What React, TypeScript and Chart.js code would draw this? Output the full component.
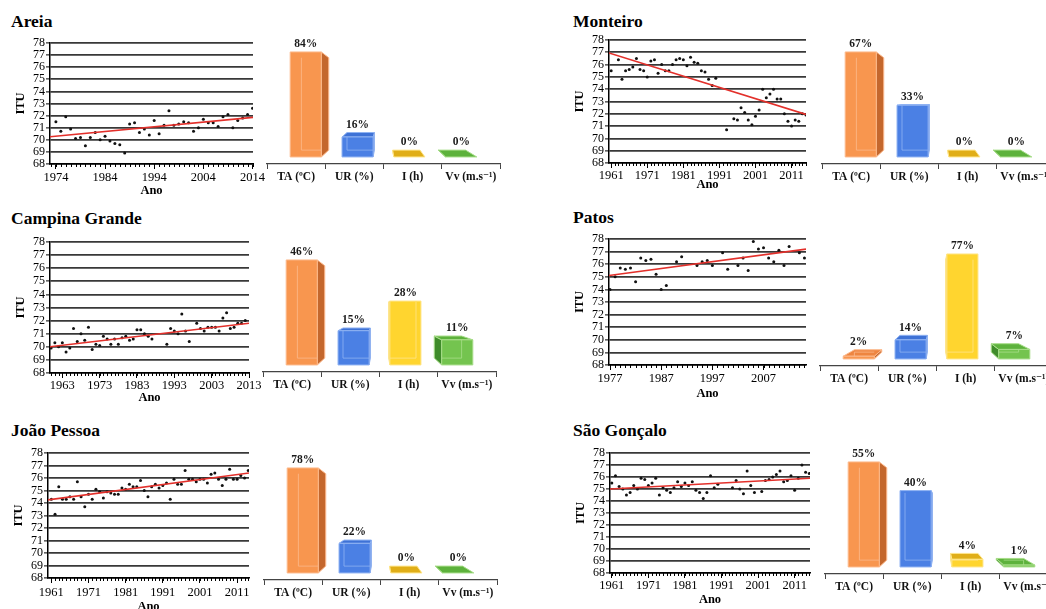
import React, { useEffect, useRef } from 'react';
import { Chart, registerables } from 'chart.js';
Chart.register(...registerables);

const SERIF = '"Liberation Serif", "Times New Roman", "DejaVu Serif", serif';

// ---------------- DATA ----------------
const BAR_CATEGORIES = ['TA (ºC)', 'UR (%)', 'I (h)', 'Vv (m.s⁻¹)'];
const ITU_TICKS = [68, 69, 70, 71, 72, 73, 74, 75, 76, 77, 78];

const AREIA_YEARS = [1974, 1975, 1976, 1977, 1978, 1979, 1980, 1981, 1982, 1983, 1984, 1985, 1986, 1987, 1988, 1989, 1990, 1991, 1992, 1993, 1994, 1995, 1996, 1997, 1998, 1999, 2000, 2001, 2002, 2003, 2004, 2005, 2006, 2007, 2008, 2009, 2010, 2011, 2012, 2013, 2014];
const AREIA_ITU = [71.5, 70.7, 71.9, 70.9, 70.1, 70.2, 69.5, 70.2, 70.6, 70.0, 70.3, 69.9, 69.7, 69.6, 68.9, 71.3, 71.4, 70.6, 70.9, 70.4, 71.6, 70.5, 71.2, 72.4, 71.2, 71.3, 71.5, 71.4, 70.7, 71.0, 71.7, 71.4, 71.4, 71.1, 71.9, 72.1, 71.0, 71.6, 71.8, 72.1, 72.6];
const AREIA_TREND_YEARS = [1972.8, 2014.1];
const AREIA_TREND_ITU = [70.25, 71.85];
const AREIA_LABEL_YEARS = [1974, 1984, 1994, 2004, 2014];
const AREIA_SHARE = [84, 16, 0, 0];

const MONTEIRO_YEARS = [1961, 1963, 1964, 1965, 1966, 1967, 1968, 1969, 1970, 1971, 1972, 1973, 1974, 1975, 1976, 1977, 1978, 1979, 1980, 1981, 1982, 1983, 1984, 1985, 1986, 1987, 1988, 1989, 1990, 1993, 1995, 1996, 1997, 1998, 1999, 2000, 2001, 2002, 2003, 2004, 2005, 2006, 2007, 2008, 2009, 2010, 2011, 2012, 2013, 2014, 2015];
const MONTEIRO_ITU = [75.5, 76.4, 74.8, 75.5, 75.6, 75.8, 76.5, 75.6, 75.5, 75.0, 76.3, 76.4, 75.3, 76.0, 75.5, 75.5, 76.0, 76.4, 76.5, 76.4, 75.9, 76.6, 76.2, 76.1, 75.5, 75.4, 74.8, 74.3, 74.9, 70.7, 71.6, 71.5, 72.5, 72.1, 71.5, 71.1, 71.8, 72.3, 74.0, 73.3, 73.6, 74.0, 73.2, 73.2, 72.0, 71.4, 71.0, 71.5, 71.4, 72.0, 71.9];
const MONTEIRO_TREND_YEARS = [1960.4, 2015];
const MONTEIRO_TREND_ITU = [76.95, 71.95];
const MONTEIRO_LABEL_YEARS = [1961, 1971, 1981, 1991, 2001, 2011];
const MONTEIRO_SHARE = [67, 33, 0, 0];

const CAMPINA_YEARS = [1960, 1961, 1962, 1963, 1964, 1965, 1966, 1967, 1968, 1969, 1970, 1971, 1972, 1973, 1974, 1975, 1976, 1977, 1978, 1979, 1980, 1981, 1982, 1983, 1984, 1985, 1986, 1987, 1991, 1992, 1993, 1994, 1995, 1996, 1997, 1999, 2000, 2001, 2002, 2003, 2004, 2005, 2006, 2007, 2008, 2009, 2010, 2011, 2012];
const CAMPINA_ITU = [69.9, 70.3, 70.0, 70.3, 69.6, 69.9, 71.4, 70.4, 71.0, 70.5, 71.5, 69.8, 70.2, 70.1, 70.8, 70.6, 70.2, 70.6, 70.2, 70.7, 70.8, 70.5, 70.6, 71.3, 71.3, 71.0, 70.8, 70.6, 70.2, 71.4, 71.2, 71.0, 72.5, 71.2, 70.4, 71.8, 71.4, 71.2, 71.5, 71.5, 71.5, 71.2, 72.2, 72.6, 71.4, 71.5, 71.8, 71.8, 72.0];
const CAMPINA_TREND_YEARS = [1959.7, 2013];
const CAMPINA_TREND_ITU = [70.0, 71.8];
const CAMPINA_LABEL_YEARS = [1963, 1973, 1983, 1993, 2003, 2013];
const CAMPINA_SHARE = [46, 15, 28, 11];

const PATOS_YEARS = [1977, 1978, 1979, 1980, 1981, 1982, 1983, 1984, 1985, 1986, 1987, 1988, 1990, 1991, 1994, 1995, 1996, 1997, 1999, 2000, 2002, 2003, 2004, 2005, 2006, 2007, 2008, 2009, 2010, 2011, 2012, 2014, 2015];
const PATOS_ITU = [74.0, 75.0, 75.7, 75.6, 75.7, 74.6, 76.5, 76.3, 76.4, 75.2, 74.0, 74.3, 76.2, 76.6, 75.9, 76.2, 76.3, 75.9, 76.9, 75.6, 75.9, 76.5, 75.5, 77.8, 77.2, 77.3, 76.5, 76.2, 77.1, 75.9, 77.4, 76.9, 76.5];
const PATOS_TREND_YEARS = [1976.8, 2015.3];
const PATOS_TREND_ITU = [75.1, 77.2];
const PATOS_LABEL_YEARS = [1977, 1987, 1997, 2007];
const PATOS_SHARE = [2, 14, 77, 7];

const JOAO_PESSOA_YEARS = [1961, 1962, 1963, 1964, 1965, 1966, 1967, 1968, 1969, 1970, 1971, 1972, 1973, 1974, 1975, 1976, 1977, 1978, 1979, 1980, 1981, 1982, 1983, 1984, 1985, 1986, 1987, 1988, 1989, 1990, 1991, 1992, 1993, 1994, 1995, 1996, 1997, 1998, 1999, 2000, 2001, 2002, 2003, 2004, 2005, 2006, 2007, 2008, 2009, 2010, 2011, 2012, 2013, 2014];
const JOAO_PESSOA_ITU = [74.3, 73.1, 75.3, 74.3, 74.3, 74.5, 74.3, 75.7, 74.5, 73.7, 74.7, 74.3, 75.1, 74.9, 74.4, 74.9, 74.8, 74.7, 74.7, 75.2, 75.1, 75.5, 75.3, 75.3, 75.8, 75.0, 74.5, 75.3, 75.5, 75.2, 75.4, 75.6, 74.3, 75.9, 75.5, 75.5, 76.6, 75.9, 75.9, 75.7, 75.9, 75.9, 75.6, 76.3, 76.4, 75.9, 75.4, 75.9, 76.7, 75.9, 75.9, 76.2, 76.0, 76.6];
const JOAO_PESSOA_TREND_YEARS = [1960.1, 2014.2];
const JOAO_PESSOA_TREND_ITU = [74.25, 76.4];
const JOAO_PESSOA_LABEL_YEARS = [1961, 1971, 1981, 1991, 2001, 2011];
const JOAO_PESSOA_SHARE = [78, 22, 0, 0];

const SAO_GONCALO_YEARS = [1961, 1962, 1963, 1964, 1965, 1966, 1967, 1968, 1969, 1970, 1971, 1972, 1973, 1974, 1975, 1976, 1977, 1978, 1979, 1980, 1981, 1982, 1983, 1984, 1985, 1986, 1987, 1988, 1989, 1990, 1994, 1995, 1996, 1997, 1998, 1999, 2000, 2002, 2003, 2004, 2005, 2006, 2007, 2008, 2009, 2010, 2011, 2012, 2013, 2014, 2015];
const SAO_GONCALO_ITU = [75.5, 76.1, 75.2, 75.0, 74.5, 74.7, 75.3, 75.0, 75.9, 75.8, 75.3, 75.5, 75.9, 74.5, 75.1, 74.9, 74.7, 75.1, 75.6, 75.2, 75.5, 75.3, 75.6, 74.9, 74.7, 74.2, 74.7, 76.1, 75.1, 75.4, 75.1, 75.7, 75.0, 74.6, 76.5, 75.3, 74.7, 74.8, 75.7, 75.8, 76.0, 76.2, 76.5, 75.6, 75.7, 76.1, 74.9, 75.9, 77.0, 76.4, 76.3];
const SAO_GONCALO_TREND_YEARS = [1960.5, 2015.2];
const SAO_GONCALO_TREND_ITU = [75.0, 75.9];
const SAO_GONCALO_LABEL_YEARS = [1961, 1971, 1981, 1991, 2001, 2011];
const SAO_GONCALO_SHARE = [55, 40, 4, 1];

// ---------------- STYLE ----------------
const FRONT = ['#F8964F', '#4B80E4', '#FFD52F', '#74C44F'];
const SIDE = ['#C4672D', '#2F5EBF', '#D9A90F', '#3F8C2A'];
const TOP = ['#EE8540', '#3E72D6', '#E0AE18', '#5DB23C'];
const EDGE = ['#FCB98C', '#8FB2F2', '#FFE68C', '#A8DD8A'];

type Panel = {
  title: string; titleX: number; titleTop: number;
  years: number[]; itu: number[]; trendYears: number[]; trendItu: number[]; labelYears: number[];
  xMin: number; xMax: number;
  plot: { l: number; r: number; t: number; b: number };
  tickPad: number; anoOffset: number;
  share: number[]; bar: { left: number; axis: number };
};

const PANELS: Panel[] = [
  { title: 'Areia', titleX: 11, titleTop: 11, years: AREIA_YEARS, itu: AREIA_ITU, trendYears: AREIA_TREND_YEARS, trendItu: AREIA_TREND_ITU, labelYears: AREIA_LABEL_YEARS, xMin: 1972.8, xMax: 2014.1, plot: { l: 50, r: 253, t: 43, b: 164 }, tickPad: 1, anoOffset: 27.5, share: AREIA_SHARE, bar: { left: 267, axis: 164 } },
  { title: 'Campina Grande', titleX: 11, titleTop: 208, years: CAMPINA_YEARS, itu: CAMPINA_ITU, trendYears: CAMPINA_TREND_YEARS, trendItu: CAMPINA_TREND_ITU, labelYears: CAMPINA_LABEL_YEARS, xMin: 1959.7, xMax: 2013, plot: { l: 50, r: 249, t: 242, b: 373 }, tickPad: 0, anoOffset: 25, share: CAMPINA_SHARE, bar: { left: 263, axis: 372 } },
  { title: 'João Pessoa', titleX: 11, titleTop: 420, years: JOAO_PESSOA_YEARS, itu: JOAO_PESSOA_ITU, trendYears: JOAO_PESSOA_TREND_YEARS, trendItu: JOAO_PESSOA_TREND_ITU, labelYears: JOAO_PESSOA_LABEL_YEARS, xMin: 1960.1, xMax: 2014.2, plot: { l: 48, r: 249, t: 453, b: 578 }, tickPad: 2, anoOffset: 29, share: JOAO_PESSOA_SHARE, bar: { left: 264, axis: 580 } },
  { title: 'Monteiro', titleX: 573, titleTop: 11, years: MONTEIRO_YEARS, itu: MONTEIRO_ITU, trendYears: MONTEIRO_TREND_YEARS, trendItu: MONTEIRO_TREND_ITU, labelYears: MONTEIRO_LABEL_YEARS, xMin: 1960.4, xMax: 2015, plot: { l: 609, r: 806, t: 40, b: 163 }, tickPad: 0, anoOffset: 22.5, share: MONTEIRO_SHARE, bar: { left: 822, axis: 164 } },
  { title: 'Patos', titleX: 573, titleTop: 207, years: PATOS_YEARS, itu: PATOS_ITU, trendYears: PATOS_TREND_YEARS, trendItu: PATOS_TREND_ITU, labelYears: PATOS_LABEL_YEARS, xMin: 1976.8, xMax: 2015.3, plot: { l: 609, r: 806, t: 239, b: 365 }, tickPad: 1.5, anoOffset: 29, share: PATOS_SHARE, bar: { left: 820, axis: 366 } },
  { title: 'São Gonçalo', titleX: 573, titleTop: 420, years: SAO_GONCALO_YEARS, itu: SAO_GONCALO_ITU, trendYears: SAO_GONCALO_TREND_YEARS, trendItu: SAO_GONCALO_TREND_ITU, labelYears: SAO_GONCALO_LABEL_YEARS, xMin: 1960.5, xMax: 2015.2, plot: { l: 610, r: 810, t: 453, b: 573 }, tickPad: 0, anoOffset: 27.5, share: SAO_GONCALO_SHARE, bar: { left: 825, axis: 574 } },
];

const Y_AXIS_W = 50;
const X_AXIS_H = 38;
const PAD_TOP = 10;
const PAD_RIGHT = 16;

const minorTicks = {
  id: 'minorTicks',
  afterDraw(chart: any) {
    const x = chart.scales.x;
    const { ctx, chartArea } = chart;
    ctx.save();
    ctx.strokeStyle = '#000';
    ctx.lineWidth = 1;
    ctx.beginPath();
    for (let yr = Math.ceil(x.min); yr <= x.max; yr++) {
      const px = Math.round(x.getPixelForValue(yr)) + 0.5;
      ctx.moveTo(px, chartArea.bottom);
      ctx.lineTo(px, chartArea.bottom + 3);
    }
    ctx.stroke();
    ctx.restore();
  },
};

function scatterConfig(p: Panel): any {
  const lh = 14.4;
  return {
    type: 'scatter',
    data: {
      datasets: [
        {
          type: 'line',
          data: p.trendYears.map((x, i) => ({ x, y: p.trendItu[i] })),
          borderColor: '#E3302B',
          borderWidth: 1.6,
          pointRadius: 0,
          fill: false,
        },
        {
          data: p.years.map((x, i) => ({ x, y: p.itu[i] })),
          pointRadius: 1.5,
          pointBackgroundColor: '#111',
          pointBorderColor: '#111',
          pointBorderWidth: 0,
        },
      ],
    },
    options: {
      animation: false,
      responsive: false,
      devicePixelRatio: 1,
      layout: { padding: { top: PAD_TOP, right: PAD_RIGHT, left: 0, bottom: 0 } },
      plugins: { legend: { display: false }, tooltip: { enabled: false } },
      scales: {
        x: {
          type: 'linear',
          min: p.xMin,
          max: p.xMax,
          afterBuildTicks: (s: any) => {
            s.ticks = p.labelYears.map((v) => ({ value: v }));
          },
          afterFit: (s: any) => {
            s.height = X_AXIS_H;
          },
          ticks: {
            autoSkip: false,
            maxRotation: 0,
            callback: (v: any) => String(v),
            font: { family: SERIF, size: 12.5 },
            color: '#000',
            padding: p.tickPad,
          },
          grid: { drawOnChartArea: false, tickLength: 5, color: '#000', lineWidth: 1 },
          border: { color: '#000', width: 1.5 },
          title: {
            display: true,
            text: 'Ano',
            font: { family: SERIF, size: 12.5, weight: 'bold' },
            color: '#000',
            padding: { top: 0, bottom: X_AXIS_H - p.anoOffset - lh / 2 },
          },
        },
        y: {
          min: 68,
          max: 78,
          afterBuildTicks: (s: any) => {
            s.ticks = ITU_TICKS.map((v) => ({ value: v }));
          },
          afterFit: (s: any) => {
            s.width = Y_AXIS_W;
          },
          ticks: { autoSkip: false, stepSize: 1, font: { family: SERIF, size: 12 }, color: '#000', padding: 1 },
          grid: { color: '#383838', lineWidth: 1.8, tickLength: 4, tickColor: '#000', tickWidth: 1 },
          border: { color: '#000', width: 1.5 },
          title: {
            display: true,
            text: 'ITU',
            font: { family: SERIF, size: 12.5, weight: 'bold' },
            color: '#000',
            padding: { top: 13, bottom: 0 },
          },
        },
      },
    },
    plugins: [minorTicks],
  };
}

const BAR_CAT_W = 58.3;
const BAR_PAD = 4;
const BAR_PAD_TOP = 10;
const BAR_AREA_H = 130;
const BAR_XAXIS_H = 26;
const BAR_MAX_PX = 118;

const box3d = {
  id: 'box3d',
  afterDatasetsDraw(chart: any) {
    const { ctx, chartArea } = chart;
    const meta = chart.getDatasetMeta(0);
    const values = chart.data.datasets[0].data as number[];
    const axisY = chartArea.bottom;
    const vx = (chartArea.left + chartArea.right) / 2;
    const vy = axisY - 64;
    const K = 0.89;
    const D = 0.12;
    const P = (px: number, py: number) => [vx + (px - vx) * K, vy + (py - vy) * K];
    const Bk = (pt: number[]) => [pt[0] + (vx - pt[0]) * D, pt[1] + (vy - pt[1]) * D];
    const poly = (pts: number[][], fill: string, stroke: string) => {
      ctx.beginPath();
      ctx.moveTo(pts[0][0], pts[0][1]);
      for (let i = 1; i < pts.length; i++) ctx.lineTo(pts[i][0], pts[i][1]);
      ctx.closePath();
      ctx.fillStyle = fill;
      ctx.fill();
      ctx.strokeStyle = stroke;
      ctx.lineWidth = 1;
      ctx.stroke();
    };
    ctx.save();
    meta.data.forEach((el: any, i: number) => {
      const { x, y, base, width } = el.getProps(['x', 'y', 'base', 'width'], true);
      const fTL = P(x - width / 2, y);
      const fTR = P(x + width / 2, y);
      const fBL = P(x - width / 2, base);
      const fBR = P(x + width / 2, base);
      const bTL = Bk(fTL), bTR = Bk(fTR), bBL = Bk(fBL), bBR = Bk(fBR);
      const cx = (fTL[0] + fTR[0]) / 2;
      if (cx < vx) poly([fTR, bTR, bBR, fBR], SIDE[i], EDGE[i]);
      else poly([fTL, bTL, bBL, fBL], SIDE[i], EDGE[i]);
      if (fTL[1] > vy) poly([fTL, fTR, bTR, bTL], TOP[i], EDGE[i]);
      if (fBL[1] - fTL[1] > 0.5) {
        poly([fTL, fTR, fBR, fBL], FRONT[i], EDGE[i]);
        ctx.beginPath();
        ctx.strokeStyle = EDGE[i];
        ctx.globalAlpha = 0.8;
        if (cx < vx) {
          ctx.moveTo(bTL[0], Math.max(bTL[1], fTL[1]));
          ctx.lineTo(bBL[0], bBL[1]);
          ctx.lineTo(Math.min(bBR[0], fBR[0]), bBR[1]);
        } else {
          ctx.moveTo(bTR[0], Math.max(bTR[1], fTR[1]));
          ctx.lineTo(bBR[0], bBR[1]);
          ctx.lineTo(Math.max(bBL[0], fBL[0]), bBL[1]);
        }
        ctx.stroke();
        ctx.globalAlpha = 1;
      }
      ctx.fillStyle = '#1a1a1a';
      ctx.font = `bold 11.5px ${SERIF}`;
      ctx.textAlign = 'center';
      ctx.textBaseline = 'bottom';
      ctx.fillText(`${values[i]}%`, cx, Math.min(fTL[1], bTL[1]) - 2);
    });
    ctx.restore();
  },
};

function barConfig(p: Panel): any {
  const M = Math.max(...p.share);
  return {
    type: 'bar',
    data: {
      labels: BAR_CATEGORIES,
      datasets: [
        {
          data: p.share,
          backgroundColor: 'rgba(0,0,0,0)',
          borderWidth: 0,
          barPercentage: 0.6,
          categoryPercentage: 1,
        },
      ],
    },
    options: {
      animation: false,
      responsive: false,
      devicePixelRatio: 1,
      layout: { padding: { top: BAR_PAD_TOP, left: BAR_PAD, right: BAR_PAD, bottom: 0 } },
      plugins: { legend: { display: false }, tooltip: { enabled: false } },
      scales: {
        x: {
          afterFit: (s: any) => {
            s.height = BAR_XAXIS_H;
          },
          grid: { offset: true, drawOnChartArea: false, tickLength: 5, color: '#444', lineWidth: 1 },
          border: { color: '#444', width: 1.2 },
          ticks: {
            autoSkip: false,
            maxRotation: 0,
            padding: 1,
            color: '#111',
            font: { family: SERIF, size: 11.5, weight: 'bold' },
          },
        },
        y: { display: false, min: 0, max: (M * BAR_AREA_H) / BAR_MAX_PX },
      },
    },
    plugins: [box3d],
  };
}

function ChartCanvas({ make, left, top, width, height }: { make: () => any; left: number; top: number; width: number; height: number }) {
  const ref = useRef<HTMLCanvasElement>(null);
  useEffect(() => {
    const chart = new Chart(ref.current as HTMLCanvasElement, make());
    return () => chart.destroy();
  }, []);
  return (
    <canvas
      ref={ref}
      width={width}
      height={height}
      style={{ position: 'absolute', left, top, width, height }}
    />
  );
}

export default function App() {
  return (
    <div
      style={{
        position: 'fixed',
        left: 0,
        top: 0,
        width: 1046,
        height: 609,
        overflow: 'hidden',
        background: '#fff',
      }}
    >
      {PANELS.map((p) => {
        const sLeft = p.plot.l - Y_AXIS_W;
        const sTop = p.plot.t - PAD_TOP;
        const sW = p.plot.r - p.plot.l + Y_AXIS_W + PAD_RIGHT;
        const sH = p.plot.b - p.plot.t + PAD_TOP + X_AXIS_H;
        const bLeft = Math.round(p.bar.left - BAR_PAD);
        const bTop = Math.round(p.bar.axis - BAR_AREA_H - BAR_PAD_TOP);
        const bW = Math.round(BAR_CAT_W * 4 + BAR_PAD * 2);
        const bH = BAR_AREA_H + BAR_PAD_TOP + BAR_XAXIS_H;
        return (
          <React.Fragment key={p.title}>
            <div
              style={{
                position: 'absolute',
                left: p.titleX,
                top: p.titleTop,
                font: `bold 17.5px ${SERIF}`,
                lineHeight: '20px',
                whiteSpace: 'nowrap',
                color: '#000',
              }}
            >
              {p.title}
            </div>
            <ChartCanvas make={() => scatterConfig(p)} left={sLeft} top={sTop} width={sW} height={sH} />
            <ChartCanvas make={() => barConfig(p)} left={bLeft} top={bTop} width={bW} height={bH} />
          </React.Fragment>
        );
      })}
    </div>
  );
}
